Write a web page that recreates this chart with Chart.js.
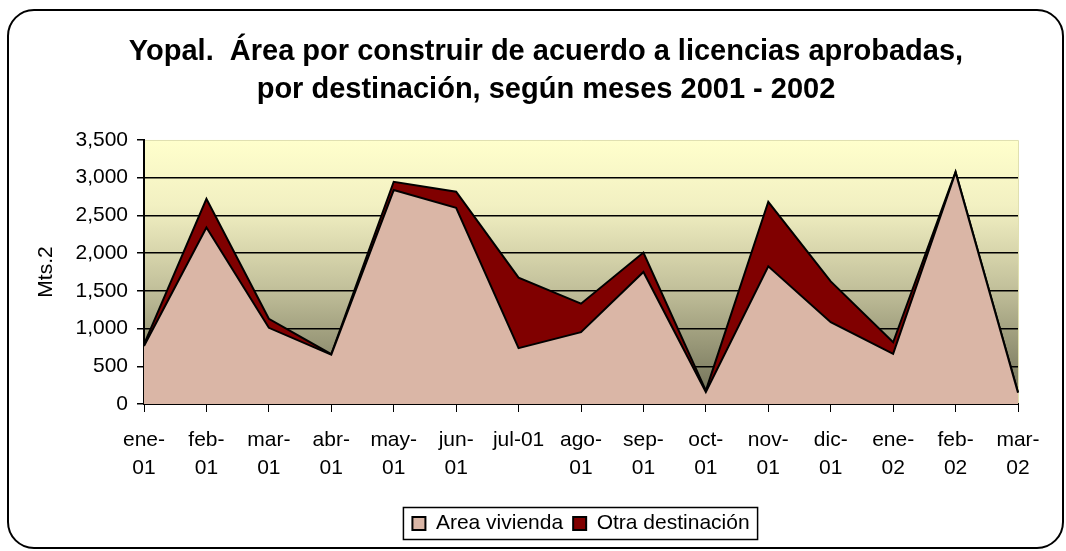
<!DOCTYPE html>
<html>
<head>
<meta charset="utf-8">
<script src="https://cdn.jsdelivr.net/npm/chart.js@4/dist/chart.umd.min.js"></script>
<style>
html,body{margin:0;padding:0;background:#fff;}
#wrap{width:1066px;height:551px;position:relative;}
</style>
</head>
<body>
<div id="wrap"><canvas id="c" width="1066" height="551"></canvas></div>
<script>
const categories = [["ene-","01"],["feb-","01"],["mar-","01"],["abr-","01"],["may-","01"],["jun-","01"],"jul-01",["ago-","01"],["sep-","01"],["oct-","01"],["nov-","01"],["dic-","01"],["ene-","02"],["feb-","02"],["mar-","02"]];
const areaVivienda = [770, 2340, 1010, 655, 2836, 2600, 740, 952, 1750, 160, 1826, 1085, 665, 3070, 150];
const otraDestinacion = [20, 380, 120, 5, 110, 215, 935, 378, 258, 17, 855, 541, 154, 10, 5];
const titleLines = ["Yopal.  Área por construir de acuerdo a licencias aprobadas,", "por destinación, según meses 2001 - 2002"];
const yTicksMax = 3500, yStep = 500;

const FONT = "'Liberation Sans', Arial, sans-serif";

const decor = {
  id: 'decor',
  beforeDraw(chart) {
    const ctx = chart.ctx, a = chart.chartArea;
    ctx.save();
    ctx.fillStyle = '#fff';
    ctx.fillRect(0, 0, chart.width, chart.height);
    const g = ctx.createLinearGradient(0, a.top, 0, a.bottom);
    g.addColorStop(0, '#FFFFCC');
    g.addColorStop(0.25, '#F2F0C2');
    g.addColorStop(0.55, '#C4C29C');
    g.addColorStop(1, '#6C6C53');
    ctx.fillStyle = g;
    ctx.fillRect(a.left, a.top, a.right - a.left, a.bottom - a.top);
    ctx.strokeStyle = '#E0E0B0';
    ctx.lineWidth = 1;
    ctx.beginPath();
    ctx.moveTo(a.left, a.top + 0.5);
    ctx.lineTo(a.right + 0.5, a.top + 0.5);
    ctx.lineTo(a.right + 0.5, a.bottom);
    ctx.stroke();
    ctx.restore();
  },
  afterDraw(chart) {
    const ctx = chart.ctx;
    ctx.save();
    ctx.strokeStyle = '#000';
    ctx.lineWidth = 2;
    const x = 8, y = 10, w = 1055, h = 538, r = 26;
    ctx.beginPath();
    ctx.moveTo(x + r, y);
    ctx.lineTo(x + w - r, y);
    ctx.arcTo(x + w, y, x + w, y + r, r);
    ctx.lineTo(x + w, y + h - r);
    ctx.arcTo(x + w, y + h, x + w - r, y + h, r);
    ctx.lineTo(x + r, y + h);
    ctx.arcTo(x, y + h, x, y + h - r, r);
    ctx.lineTo(x, y + r);
    ctx.arcTo(x, y, x + r, y, r);
    ctx.closePath();
    ctx.stroke();
    const hb = chart.legend.legendHitBoxes;
    if (hb && hb.length) {
      let l = Infinity, t = Infinity, rr = -Infinity, b = -Infinity;
      hb.forEach(h => { l = Math.min(l, h.left); t = Math.min(t, h.top); rr = Math.max(rr, h.left + h.width); b = Math.max(b, h.top + h.height); });
      ctx.lineWidth = 1.5;
      const vp = (32 - (b - t)) / 2;
      ctx.strokeRect(l - 9, t - vp, (rr - l) + 17, (b - t) + 2 * vp);
    }
    ctx.restore();
  }
};

new Chart(document.getElementById('c'), {
  type: 'line',
  data: {
    labels: categories,
    datasets: [
      {
        label: 'Area vivienda',
        data: areaVivienda,
        backgroundColor: '#DAB6A6',
        borderColor: '#000',
        borderWidth: 2,
        fill: 'origin',
        pointRadius: 0,
        tension: 0
      },
      {
        label: 'Otra destinación',
        data: otraDestinacion,
        backgroundColor: '#800000',
        borderColor: '#000',
        borderWidth: 2,
        fill: '-1',
        pointRadius: 0,
        tension: 0
      }
    ]
  },
  options: {
    responsive: false,
    animation: false,
    layout: { padding: { left: 74, right: 48, top: 0, bottom: 7 } },
    plugins: {
      title: {
        display: true,
        text: titleLines,
        color: '#000',
        font: { family: FONT, size: 29, weight: 'bold', lineHeight: 1.31 },
        padding: { top: 33, bottom: 31 }
      },
      legend: {
        display: true,
        position: 'bottom',
        fullSize: false,
        labels: {
          color: '#000',
          font: { family: FONT, size: 21 },
          boxWidth: 13,
          boxHeight: 13,
          padding: 10
        }
      },
      tooltip: { enabled: false }
    },
    scales: {
      x: {
        offset: false,
        grid: { display: true, drawOnChartArea: false, color: '#000', tickColor: '#000', tickLength: 8, lineWidth: 1 },
        border: { display: true, color: '#000', width: 2 },
        ticks: { color: '#000', font: { family: FONT, size: 21, lineHeight: 1.3 }, padding: 15, maxRotation: 0, autoSkip: false },
        afterFit(s) { s.height = 99; }
      },
      y: {
        stacked: true,
        min: 0,
        max: yTicksMax,
        grid: {
          color: ctx => (ctx.tick && ctx.tick.value === yTicksMax) ? 'rgba(0,0,0,0)' : '#000',
          tickColor: '#000',
          tickLength: 7,
          lineWidth: 1.5
        },
        border: { display: true, color: '#000', width: 2 },
        ticks: { stepSize: yStep, color: '#000', font: { family: FONT, size: 21 }, padding: 9 },
        title: { display: true, text: 'Mts.2', color: '#000', font: { family: FONT, size: 21 }, padding: { top: -40.6, bottom: 0 } },
        afterFit(s) { s.width = 70; }
      }
    }
  },
  plugins: [decor]
});
</script>
</body>
</html>
